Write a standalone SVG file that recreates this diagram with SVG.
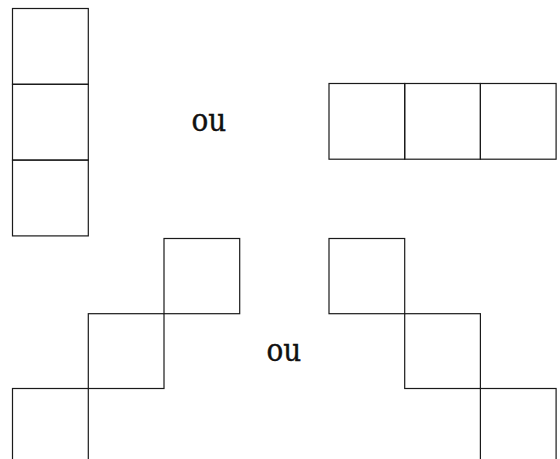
<svg xmlns="http://www.w3.org/2000/svg" width="560" height="459" viewBox="0 0 560 459">
<style>
.sq{fill:none;stroke:#1a1a1a;stroke-width:1.2}
.t{font-family:"DejaVu Serif Condensed","DejaVu Serif",serif;font-stretch:condensed;font-size:31px;fill:#111;stroke:#111;stroke-width:0.4}
</style>
<rect width="560" height="459" fill="#fff"/>
<g id="col">
<rect class="sq" x="12.5" y="8.5" width="75.8" height="75.8"/>
<rect class="sq" x="12.5" y="84.3" width="75.8" height="75.8"/>
<rect class="sq" x="12.5" y="160.1" width="75.8" height="75.8"/>
</g>
<g id="row">
<rect class="sq" x="329" y="83.5" width="75.7" height="75.7"/>
<rect class="sq" x="404.7" y="83.5" width="75.7" height="75.7"/>
<rect class="sq" x="480.4" y="83.5" width="75.7" height="75.7"/>
</g>
<g id="stairL">
<rect class="sq" x="164" y="238.5" width="75.7" height="75.2"/>
<rect class="sq" x="88.3" y="313.7" width="75.7" height="74.8"/>
<rect class="sq" x="12.5" y="388.5" width="75.8" height="75.8"/>
</g>
<g id="stairR">
<rect class="sq" x="329" y="238.5" width="75.7" height="75.2"/>
<rect class="sq" x="404.7" y="313.7" width="75.7" height="74.8"/>
<rect class="sq" x="480.4" y="388.5" width="75.7" height="75.8"/>
</g>
<text class="t" x="191.5" y="131">ou</text>
<text class="t" x="266.5" y="361">ou</text>
</svg>
